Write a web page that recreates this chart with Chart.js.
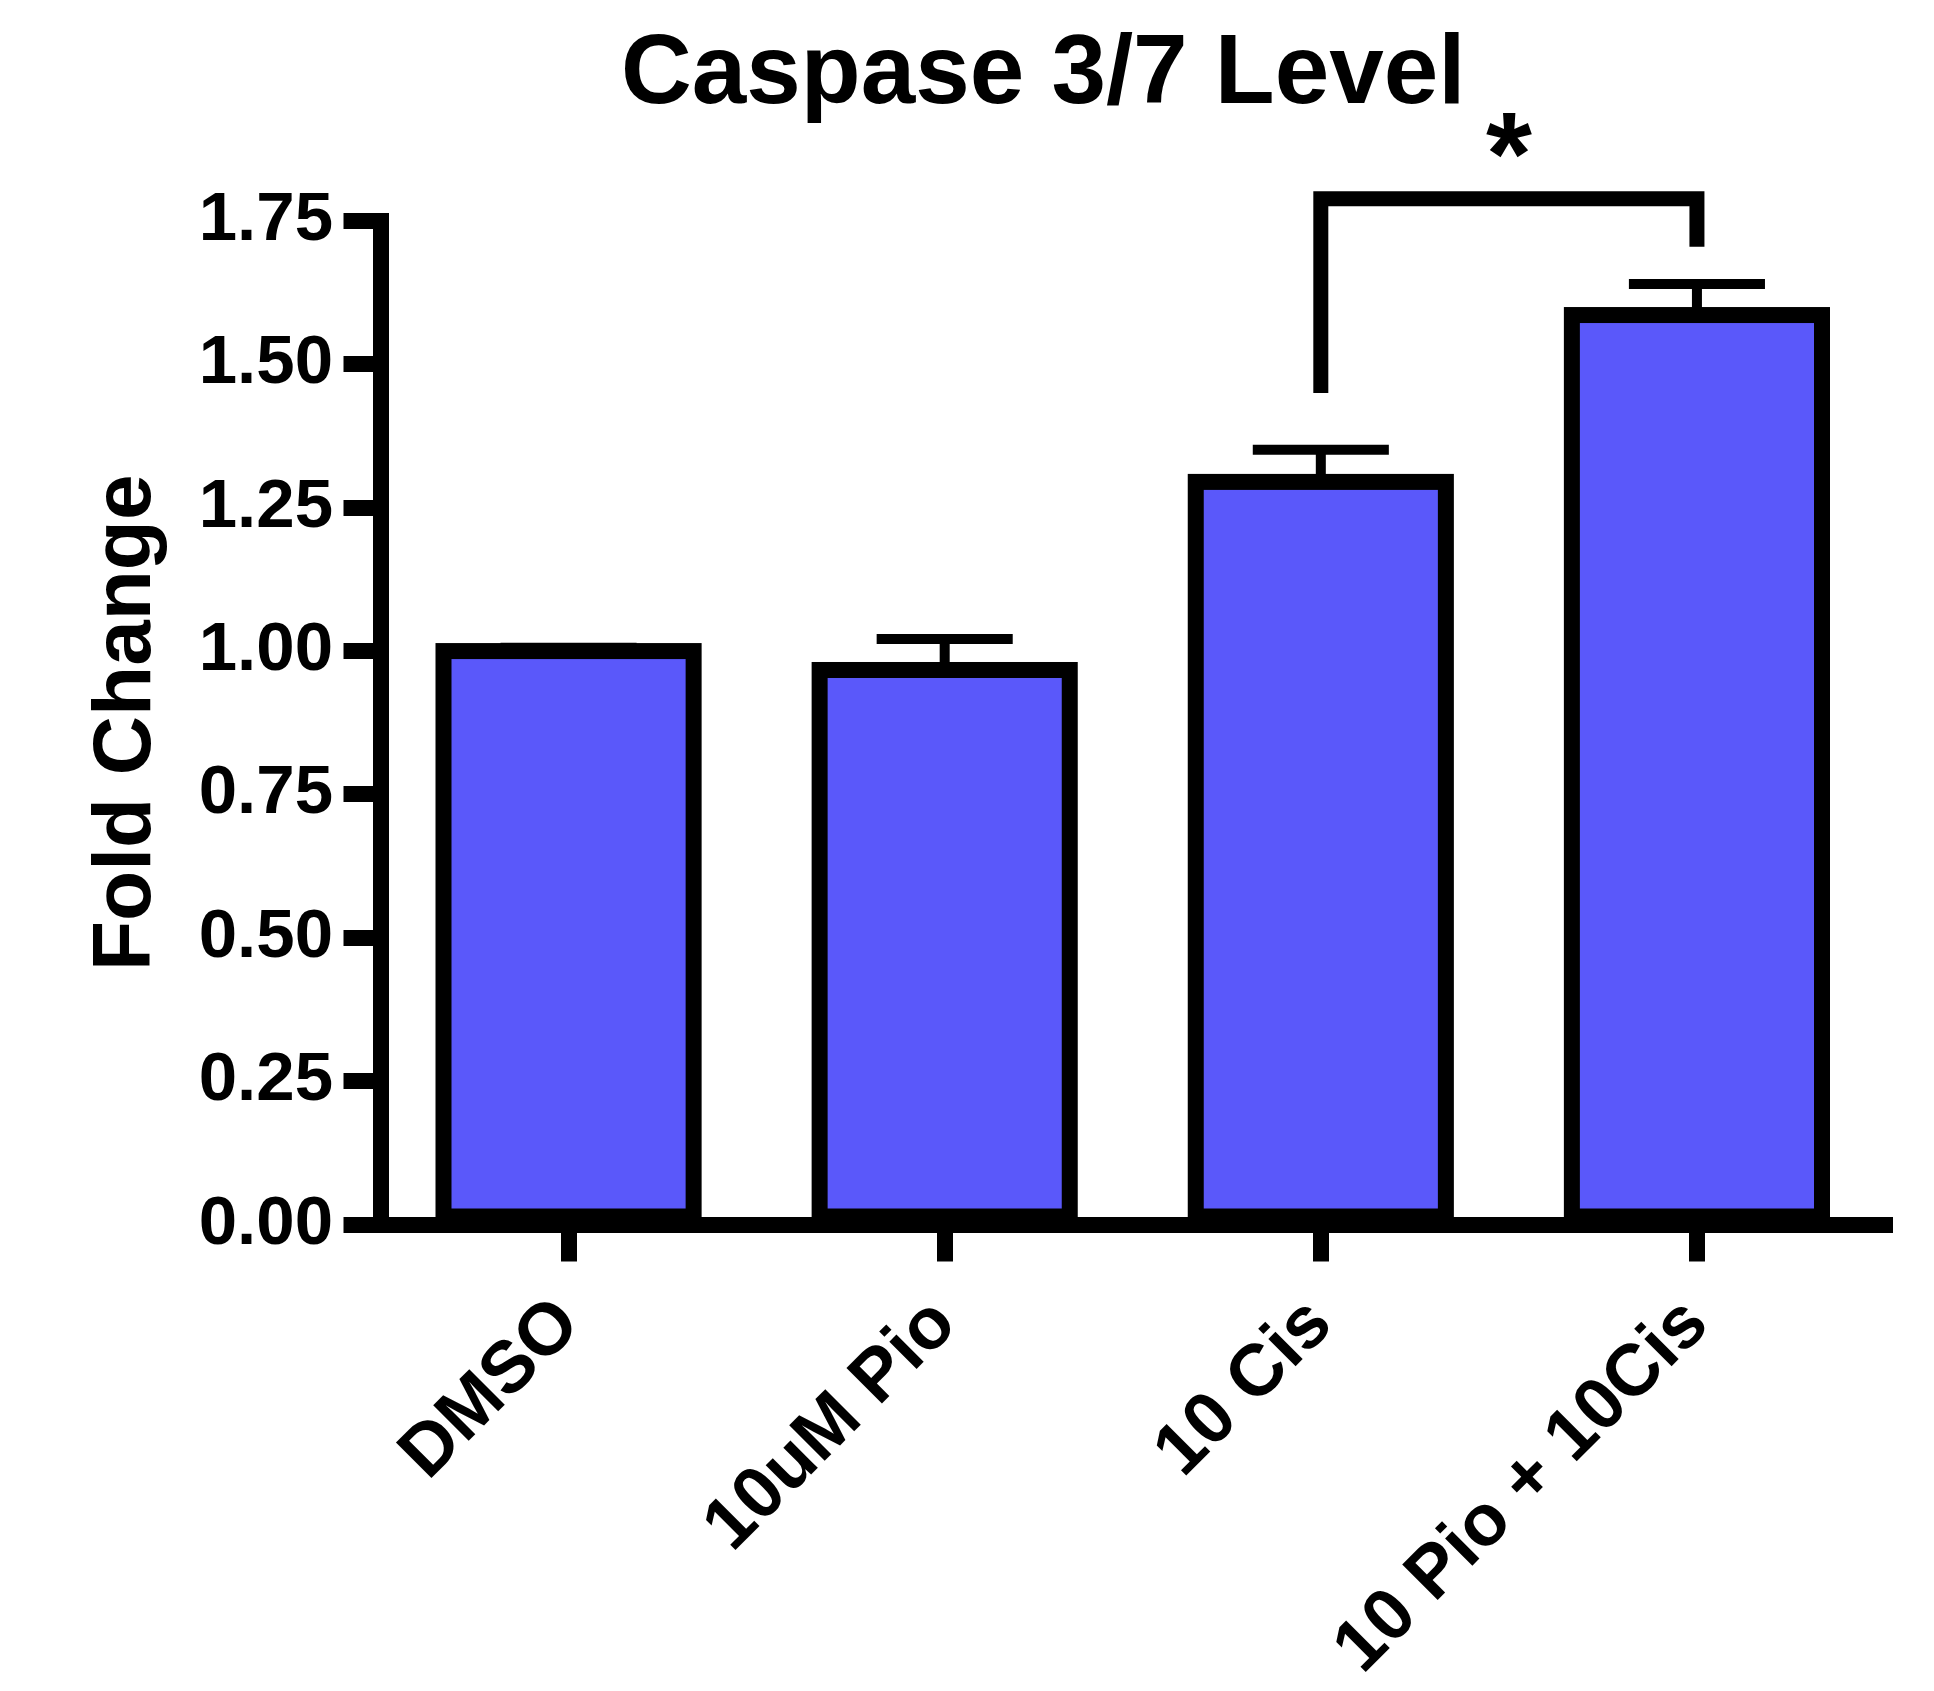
<!DOCTYPE html>
<html>
<head>
<meta charset="utf-8">
<title>Caspase 3/7 Level</title>
<script src="https://cdn.jsdelivr.net/npm/chart.js@4.4.1/dist/chart.umd.min.js"></script>
<style>
  html, body { margin: 0; padding: 0; background: #fff; }
  #wrap { width: 1934px; height: 1691px; }
</style>
</head>
<body>
<div id="wrap"><canvas id="chart" width="1934" height="1691"></canvas></div>
<script>
// values
const categories = ["DMSO", "10uM Pio", "10 Cis", "10 Pio + 10Cis"];
const meanValues = [1.000, 0.967, 1.295, 1.586];
const semValues = [0.006, 0.054, 0.056, 0.054];
const yTicks = [0, 0.25, 0.5, 0.75, 1.0, 1.25, 1.5, 1.75];

// significance bracket: between categories 2 and 3
const sigPair = [2, 3];
const sigLevels = [1.450, 1.789, 1.705]; // left leg end, bar height, right leg end
const sigLabel = "*";

const FONT = '"Liberation Sans", Arial, Helvetica, sans-serif';

const overlay = {
    id: "overlay",
    afterDatasetsDraw(chart) {
        const ctx = chart.ctx;
        const y = chart.scales.y;
        const x = chart.scales.x;
        const meta = chart.getDatasetMeta(0);

        ctx.save();
        ctx.strokeStyle = "#000";
        ctx.fillStyle = "#000";
        ctx.lineCap = "butt";

        //error bars (upper only) + bar outlines centred on the bar edge
        meta.data.forEach((bar, i) => {
            const top = y.getPixelForValue(meanValues[i] + semValues[i]);
            const capHalf = bar.width * 0.272;
            ctx.lineWidth = 10;
            ctx.beginPath();
            ctx.moveTo(bar.x, bar.y);
            ctx.lineTo(bar.x, top);
            ctx.moveTo(bar.x - capHalf, top);
            ctx.lineTo(bar.x + capHalf, top);
            ctx.stroke();

            ctx.lineWidth = 16;
            ctx.strokeRect(bar.x - bar.width / 2, bar.y, bar.width, bar.base - bar.y);
        });

        //bracket
        const xa = x.getPixelForValue(sigPair[0]);
        const xb = x.getPixelForValue(sigPair[1]);
        const yTop = y.getPixelForValue(sigLevels[1]);
        ctx.lineWidth = 15;
        ctx.lineJoin = "miter";
        ctx.beginPath();
        ctx.moveTo(xa, y.getPixelForValue(sigLevels[0]));
        ctx.lineTo(xa, yTop);
        ctx.lineTo(xb, yTop);
        ctx.lineTo(xb, y.getPixelForValue(sigLevels[2]));
        ctx.stroke();

        //star, centred above the bracket
        ctx.font = "bold 118px " + FONT;
        ctx.textAlign = "center";
        ctx.textBaseline = "alphabetic";
        const m = ctx.measureText(sigLabel);
        const cy = yTop - 63;
        ctx.fillText(sigLabel, (xa + xb) / 2, cy + (m.actualBoundingBoxAscent - m.actualBoundingBoxDescent) / 2);

        //title
        ctx.font = "bold 98px " + FONT;
        ctx.textAlign = "left";
        ctx.fillText("Caspase 3/7 Level", 621, 103);

        ctx.restore();
    }
};

new Chart(document.getElementById("chart"), {
    type: "bar",
    data: {
        labels: categories,
        datasets: [
            {
                label: "Fold Change",
                data: meanValues,
                backgroundColor: "#5a58fa",
                borderWidth: 0,
                barPercentage: 0.665,
                categoryPercentage: 1.0
            }
        ]
    },
    options: {
        responsive: false,
        animation: false,
        layout: { padding: { top: 221, right: 49, left: 0, bottom: 0 } },
        plugins: {
            legend: { display: false },
            tooltip: { enabled: false },
            title: { display: false }
        },
        scales: {
            x: {
                offset: true,
                grid: {
                    offset: false,
                    drawOnChartArea: false,
                    color: "#000",
                    lineWidth: 16,
                    tickLength: 37,
                    tickWidth: 16,
                    tickColor: "#000"
                },
                border: { display: true, color: "#000", width: 16 },
                ticks: {
                    autoSkip: false,
                    minRotation: 45,
                    maxRotation: 45,
                    padding: 20,
                    color: "#000",
                    font: { family: FONT, size: 73, weight: "bold" }
                },
                afterFit(scale) { scale.height = 466.5; }
            },
            y: {
                min: 0,
                max: 1.75,
                afterBuildTicks(scale) { scale.ticks = yTicks.map(v => ({ value: v })); },
                grid: {
                    drawOnChartArea: false,
                    color: "#000",
                    lineWidth: 16,
                    tickLength: 37,
                    tickWidth: 16,
                    tickColor: "#000"
                },
                border: { display: true, color: "#000", width: 16 },
                ticks: {
                    padding: 10.5,
                    color: "#000",
                    font: { family: FONT, size: 69, weight: "bold" },
                    callback: (v) => Number(v).toFixed(2)
                },
                title: {
                    display: true,
                    text: "Fold Change",
                    color: "#000",
                    padding: { top: 78, bottom: 0 },
                    font: { family: FONT, size: 82, weight: "bold" }
                },
                afterFit(scale) { scale.width = 380.5; }
            }
        }
    },
    plugins: [overlay]
});
</script>
</body>
</html>
